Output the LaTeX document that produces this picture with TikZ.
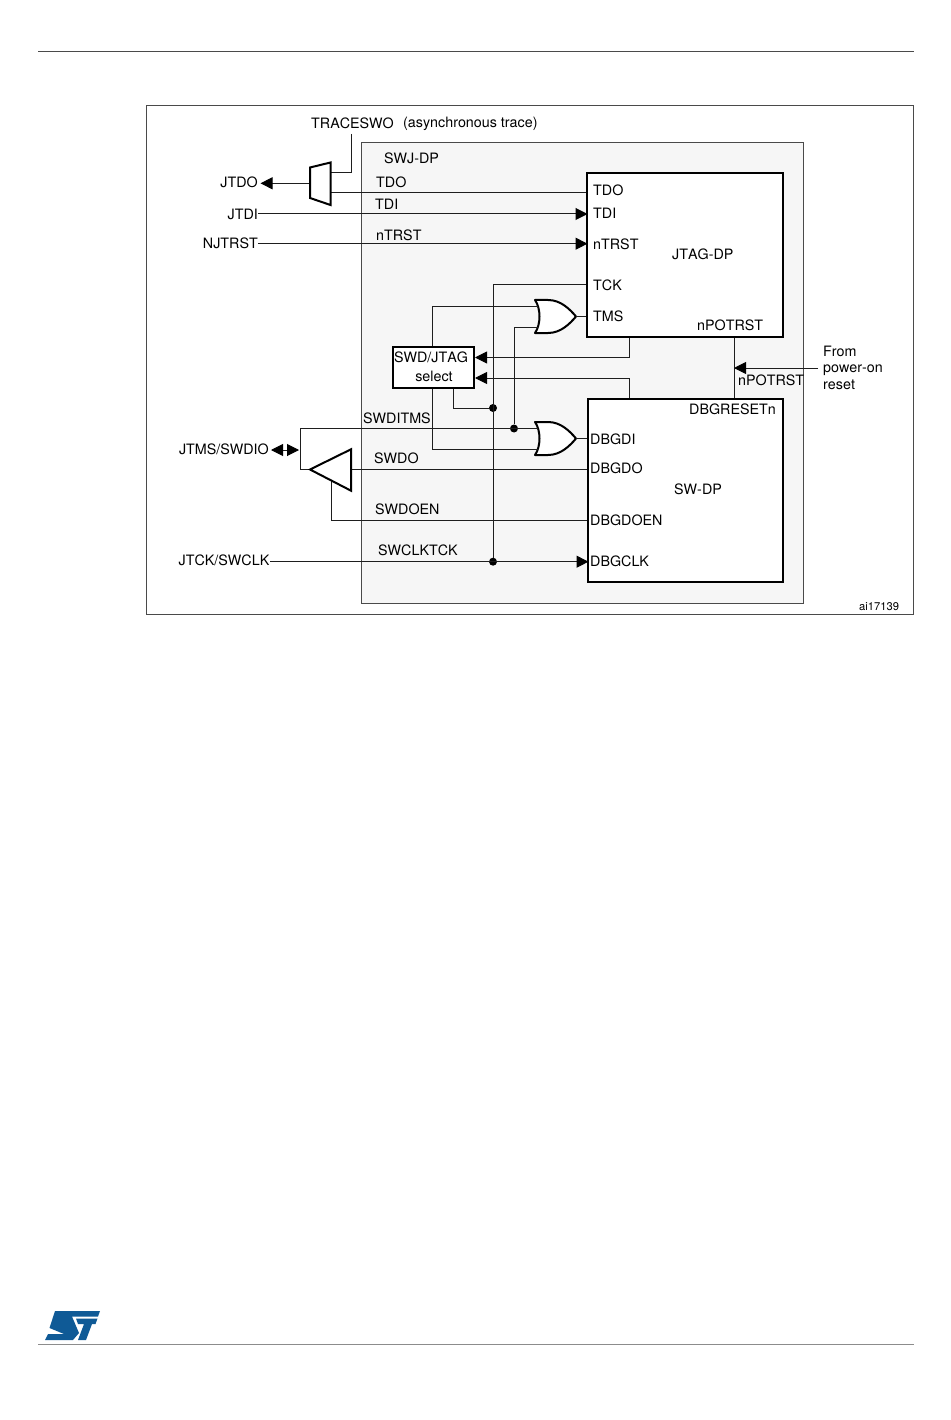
\documentclass[tikz,border=0pt]{standalone}
\usepackage{fontspec}
\usepackage{xcolor}
\setmainfont[Kerning=Off]{TeX Gyre Heros}
\usetikzlibrary{arrows.meta,calc}
\definecolor{StBlue}{HTML}{0F5A96}
\definecolor{PanelFog}{HTML}{F6F6F6}
\definecolor{WireInk}{HTML}{1E1E1E}
\definecolor{FrameInk}{HTML}{4A4A4A}
\tikzset{
  lbl/.style={inner sep=0pt,anchor=west,text height=10.3pt,text depth=0pt,font=\fontsize{14.3}{16}\selectfont},
  lblr/.style={lbl,anchor=east},
  lblc/.style={lbl,anchor=center},
  wire/.style={draw=WireInk,line width=1pt},
  sig/.style={wire,-{Triangle[length=12pt,width=12pt,color=black]}},
  sigin/.style={sig,shorten >=-1.5pt},
  blockbox/.style={draw=black,line width=2pt,fill=white,inner sep=0pt,anchor=north west},
  junction/.style={circle,fill=black,inner sep=0pt,minimum size=8pt},
  orgate/.pic={
    \draw[fill=white,draw=black,line width=2pt,line join=round]
      (-41,-16.5) -- (-28,-16.5) .. controls (-15,-16.5) and (-6,-7) .. (0,0)
      .. controls (-6,7) and (-15,16.5) .. (-28,16.5) -- (-41,16.5)
      .. controls (-35,8) and (-35,-8) .. cycle;
    \coordinate (-in1) at (-38,-10);
    \coordinate (-in2) at (-38,11);
    \coordinate (-out) at (0,0);
  }
}
\begin{document}
\begin{tikzpicture}[x=1pt,y=-1pt,>=Latex]
  \useasboundingbox (0,0) rectangle (950,1420);
  % Page rules and logo.
  \draw[FrameInk,line width=1pt] (38,51.5) -- (914,51.5);
  \draw[black!45,line width=1.6pt] (38,1344.5) -- (914,1344.5);
  \fill[StBlue] (55,1311) -- (100,1311) -- (98,1316.5) -- (72,1316.5) -- (79,1333) -- (73,1340) -- (45,1340)
        -- (48,1334) -- (64,1334) -- (49.5,1328) -- cycle;
  \fill[StBlue] (76,1318.5) -- (97.5,1318.5) -- (95.5,1324) -- (92,1324) -- (86,1340) -- (78,1340) -- (84,1324) -- (78,1324) -- cycle;

  % Frames.
  \draw[FrameInk,line width=1pt] (146,105.5) rectangle (913,614.5);
  \draw[FrameInk,line width=1pt,fill=PanelFog] (361,143) rectangle (803,603);
  \node[blockbox,minimum width=196pt,minimum height=164pt] (jtagdp) at (586,172) {};
  \node[blockbox,minimum width=195pt,minimum height=183pt] (swdp) at (587,398) {};
  \node[blockbox,minimum width=81pt,minimum height=41pt] (swdsel) at (392,346) {};

  % Outside labels.
  \node[lblr] (jtdo) at (258,182) {JTDO};
  \node[lblr] (jtdi) at (258,214) {JTDI};
  \node[lblr] (njtrst) at (258,243.7) {NJTRST};
  \node[lblr] (jtms) at (269,449) {JTMS/SWDIO};
  \node[lblr] (jtck) at (269.5,560) {JTCK/SWCLK};
  \node[lbl] (traceswo) at (311,123) {TRACESWO};
  \node[lbl] (asynclbl) at (403,122) {(asynchronous trace)};
  \node[lbl] (fromlbl) at (823,351) {From};
  \node[lbl] (powerlbl) at (823,367.5) {power-on};
  \node[lbl] (resetlbl) at (823,384) {reset};
  \node[lbl,font=\fontsize{11.2}{13}\selectfont] (partlbl) at (859,605) {ai17139};

  % Wire labels.
  \node[lbl] (swjlbl) at (384,158) {SWJ-DP};
  \node[lbl] (tdowire) at (376,182) {TDO};
  \node[lbl] (tdiwire) at (375,204.5) {TDI};
  \node[lbl] (trstwire) at (376,235) {nTRST};
  \node[lbl] (itmswire) at (363,418) {SWDITMS};
  \node[lbl] (dowire) at (374,458) {SWDO};
  \node[lbl] (oenwire) at (375,509) {SWDOEN};
  \node[lbl] (clkwire) at (378,550) {SWCLKTCK};
  \node[lbl] (porwire) at (738,380) {nPOTRST};

  % JTAG-DP.
  \node[lbl] (jtdopin) at (593,190) {TDO};
  \node[lbl] (jtdipin) at (593,213) {TDI};
  \node[lbl] (jtrstpin) at (593,244) {nTRST};
  \node[lbl] (jtckpin) at (593,285) {TCK};
  \node[lbl] (jtmspin) at (593,316) {TMS};
  \node[lbl] (jtagname) at (672,254) {JTAG-DP};
  \node[lbl] (jporpin) at (697,325) {nPOTRST};

  % SW-DP.
  \node[lbl] (dbgrst) at (689,409) {DBGRESETn};
  \node[lbl] (dbgdi) at (590,439) {DBGDI};
  \node[lbl] (dbgdo) at (590,468) {DBGDO};
  \node[lbl] (dbgoen) at (590,520) {DBGDOEN};
  \node[lbl] (dbgclk) at (590,561) {DBGCLK};
  \node[lbl] (swname) at (674,489) {SW-DP};

  % Select box text.
  \node[lblc] (swdtxt) at (431,357) {SWD/JTAG};
  \node[lblc] (seltxt) at (434,376) {select};

  % Trace mux.
  \coordinate (muxout) at (310,183.3);
  \coordinate (muxtrace) at (330.5,172.3);
  \coordinate (muxtdo) at (330.5,192.7);
  \coordinate (traceup) at (351.7,134);
  \draw[sig] (muxout) -- ([xshift=2.5pt]jtdo.east |- muxout);
  \draw[wire] (traceup) |- (muxtrace);
  \draw[wire] (muxtdo) -- (jtagdp.west |- muxtdo);
  \draw[fill=white,draw=black,line width=2pt] (310,167.5) -- (330.5,162.5) -- (330.5,205) -- (310,198) -- cycle;

  % Straight inputs.
  \draw[sigin] (jtdi.east) -- (jtagdp.west |- jtdi.east);
  \draw[sigin] (njtrst.east) -- (jtagdp.west |- njtrst.east);

  % Clock net.
  \coordinate (tckturn) at (493,285);
  \coordinate (jtckend) at (270,561.7);
  \node[junction] (clkdot) at (493,561.7) {};
  \node[junction] (seldot) at (493,408) {};
  \draw[sigin] (jtckend) -- (swdp.west |- jtckend);
  \draw[wire] (jtagdp.west |- tckturn) -- (tckturn) -- (clkdot);
  \draw[wire] ([xshift=20pt]swdsel.south) |- (seldot);

  % Gates and select.
  \pic (gatetms) at (576,316.5) {orgate};
  \pic (gatedi) at (576,438.5) {orgate};
  \node[junction] (itmsdot) at (514,428.5) {};
  \coordinate (itmsleft) at (300,428.5);
  \coordinate (bufleft) at (300,469.5);
  \draw[wire] (gatetms-out) -- (jtagdp.west |- gatetms-out);
  \draw[wire] (gatedi-out) -- (swdp.west |- gatedi-out);
  \draw[wire] ([xshift=-1pt]swdsel.north) |- (gatetms-in1);
  \draw[wire] ([xshift=-1pt]swdsel.south) |- (gatedi-in2);
  \draw[wire] (itmsdot) |- (gatetms-in2);
  \draw[wire] (gatedi-in1) -- (itmsleft) -- (bufleft);

  % Reset lines.
  \coordinate (selinA) at (629,357.5);
  \coordinate (selinB) at (629,378);
  \draw[sig] (jtagdp.south -| selinA) -- (selinA) -- (swdsel.east |- selinA);
  \draw[sig] (swdp.north -| selinB) -- (selinB) -- (swdsel.east |- selinB);
  \coordinate (portop) at (734,337);
  \coordinate (porin) at (818,368);
  \draw[wire] (jtagdp.south -| portop) -- (swdp.north -| portop);
  \draw[sig] (porin) -- (portop |- porin);

  % SWDIO buffer.
  \coordinate (buftip) at (310,469.5);
  \coordinate (bufback) at (351,469.5);
  \coordinate (bufen) at (331,480);
  \coordinate (ioarrow) at (300,450);
  \draw[wire,{Triangle[length=12pt,width=12pt,color=black]}-{Triangle[length=12pt,width=12pt,color=black]}] (271,450) -- ([xshift=-1pt]ioarrow);
  \draw[wire] (bufleft) -- (buftip);
  \draw[wire] (bufback) -- (swdp.west |- bufback);
  \draw[wire] (bufen) |- (swdp.west |- 0,520.7);
  \draw[fill=white,draw=black,line width=2pt] (buftip) -- (351,449.3) -- (351,490.7) -- cycle;
\end{tikzpicture}
\end{document}
